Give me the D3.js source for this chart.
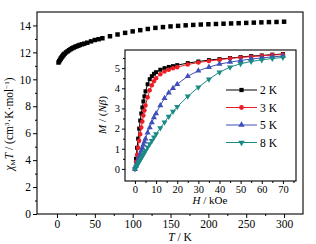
<!DOCTYPE html>
<html>
<head>
<meta charset="utf-8">
<script src="https://cdn.jsdelivr.net/npm/d3@7"></script>
<style>
  body { margin: 0; background: #fff; }
  text { font-family: "Liberation Serif", "DejaVu Serif", serif; fill: #000; }
</style>
</head>
<body>
<div id="chart-area"></div>
<script>
// main plot: chi_M T vs T
var tempK = [2, 3, 4, 5, 6, 7, 8, 9, 10, 12, 14, 16, 18, 20, 22, 24, 26, 28, 30, 33, 36, 40, 45, 50, 55, 60,
    70, 80, 90, 100, 110, 120, 130, 140, 150, 160, 170, 180, 190, 200, 210, 220, 230, 240, 250, 260, 270, 280, 290, 300];
var chiT = [11.25, 11.35, 11.45, 11.55, 11.62, 11.7, 11.77, 11.85, 11.9, 12.0, 12.08, 12.16, 12.24, 12.3, 12.36, 12.41, 12.46, 12.5, 12.55, 12.6, 12.65, 12.72, 12.82, 12.92, 12.98, 13.05,
    13.2, 13.33, 13.45, 13.56, 13.65, 13.74, 13.82, 13.88, 13.93, 13.97, 14.01, 14.04, 14.07, 14.09, 14.11, 14.13, 14.15, 14.17, 14.19, 14.21, 14.23, 14.25, 14.26, 14.28];
var mainXTicks = [0, 50, 100, 150, 200, 250, 300];
var mainYTicks = [0, 2, 4, 6, 8, 10, 12, 14];

// inset: M vs H
var fieldH = [0, 0.5, 1, 1.5, 2, 2.5, 3, 3.5, 4, 4.5, 5, 6, 7, 8, 9, 10, 12, 14, 16, 18, 20, 25, 30, 35, 40, 45, 50, 55, 60, 65, 70];
var m2K = [0, 0.5, 1.05, 1.5, 2.0, 2.4, 2.75, 3.05, 3.35, 3.6, 3.85, 4.2, 4.45, 4.6, 4.72, 4.8, 4.92, 5.0, 5.06, 5.1, 5.15, 5.25, 5.33, 5.4, 5.45, 5.5, 5.55, 5.6, 5.63, 5.67, 5.7];
var m3K = [0, 0.35, 0.7, 1.05, 1.4, 1.72, 2.05, 2.35, 2.65, 2.9, 3.15, 3.55, 3.9, 4.15, 4.35, 4.5, 4.7, 4.83, 4.92, 4.99, 5.05, 5.18, 5.28, 5.35, 5.42, 5.48, 5.53, 5.57, 5.61, 5.65, 5.68];
var m5K = [0, 0.15, 0.3, 0.45, 0.6, 0.75, 0.9, 1.05, 1.2, 1.35, 1.5, 1.8, 2.05, 2.3, 2.55, 2.75, 3.15, 3.5, 3.78, 4.0, 4.2, 4.6, 4.87, 5.05, 5.2, 5.3, 5.38, 5.45, 5.51, 5.56, 5.6];
var m8K = [0, 0.09, 0.18, 0.27, 0.36, 0.45, 0.54, 0.63, 0.72, 0.81, 0.9, 1.07, 1.24, 1.4, 1.57, 1.73, 2.03, 2.32, 2.6, 2.85, 3.08, 3.6, 4.05, 4.45, 4.8, 5.05, 5.22, 5.33, 5.41, 5.48, 5.53];
var insetXTicks = [0, 10, 20, 30, 40, 50, 60, 70];
var insetYTicks = [0, 1, 2, 3, 4, 5];
var seriesNames = ["2 K", "3 K", "5 K", "8 K"];

var series = [
    { name: seriesNames[0], values: m2K, color: "#000000", symbol: d3.symbolSquare, rot: 0 },
    { name: seriesNames[1], values: m3K, color: "#ee1c25", symbol: d3.symbolCircle, rot: 0 },
    { name: seriesNames[2], values: m5K, color: "#3f4fb8", symbol: d3.symbolTriangle, rot: 0 },
    { name: seriesNames[3], values: m8K, color: "#1a8a84", symbol: d3.symbolTriangle, rot: 180 }
];

var svg = d3.select("#chart-area")
    .append("svg")
        .attr("width", 316)
        .attr("height", 244);

// ---- main plot ----
var main = { left: 37, right: 303, top: 12, bottom: 214 };

var x = d3.scaleLinear().domain([-26.4, 325]).range([main.left, main.right]);
var y = d3.scaleLinear().domain([0, 15]).range([main.bottom, main.top]);

svg.append("rect")
    .attr("x", main.left).attr("y", main.top)
    .attr("width", main.right - main.left).attr("height", main.bottom - main.top)
    .attr("fill", "none").attr("stroke", "#000").attr("stroke-width", 1.1);

function styleAxis(sel, fs) {
    sel.select(".domain").remove();
    sel.selectAll(".tick line").attr("stroke", "#000").attr("stroke-width", 1);
    sel.selectAll(".tick text").attr("font-size", fs);
}

// minor ticks
svg.append("g")
    .attr("transform", "translate(0," + main.bottom + ")")
    .call(d3.axisBottom(x).tickValues(d3.range(25, 325, 50)).tickSize(2).tickFormat(""))
    .call(styleAxis, "0px");
svg.append("g")
    .attr("transform", "translate(" + main.left + ",0)")
    .call(d3.axisLeft(y).tickValues(d3.range(1, 15, 2)).tickSize(2).tickFormat(""))
    .call(styleAxis, "0px");

svg.append("g")
    .attr("transform", "translate(0," + main.bottom + ")")
    .call(d3.axisBottom(x).tickValues(mainXTicks).tickSize(4).tickPadding(1.5))
    .call(styleAxis, "11.5px");
svg.append("g")
    .attr("transform", "translate(" + main.left + ",0)")
    .call(d3.axisLeft(y).tickValues(mainYTicks).tickSize(4).tickPadding(2))
    .call(styleAxis, "11.5px");

svg.append("g").selectAll("path")
    .data(tempK)
    .enter().append("path")
        .attr("d", d3.symbol().type(d3.symbolSquare).size(20))
        .attr("transform", function(d, i) { return "translate(" + x(d) + "," + y(chiT[i]) + ")"; })
        .attr("fill", "#000");

// X label
var xl = svg.append("text")
    .attr("x", 180).attr("y", 240.5)
    .attr("font-size", "11.5px")
    .attr("text-anchor", "middle");
xl.append("tspan").attr("font-style", "italic").text("T");
xl.append("tspan").text(" / K");

// Y label
var yl = svg.append("text")
    .attr("transform", "translate(13,124) rotate(-90)")
    .attr("font-size", "11.5px")
    .attr("text-anchor", "middle");
yl.append("tspan").attr("font-style", "italic").text("χ");
yl.append("tspan").attr("font-size", "7px").attr("dy", 2).text("M");
yl.append("tspan").attr("font-style", "italic").attr("dy", -2).text("T");
yl.append("tspan").text(" / (cm");
yl.append("tspan").attr("font-size", "7px").attr("dy", -4).text("3");
yl.append("tspan").attr("dy", 4).text("·K·mol");
yl.append("tspan").attr("font-size", "7px").attr("dy", -4).text("−1");
yl.append("tspan").attr("dy", 4).text(")");

// ---- inset ----
var inset = { left: 125, right: 296, top: 50, bottom: 181 };

var xi = d3.scaleLinear().domain([-4.7, 76.2]).range([inset.left, inset.right]);
var yi = d3.scaleLinear().domain([-0.6, 5.9]).range([inset.bottom, inset.top]);

svg.append("rect")
    .attr("x", inset.left).attr("y", inset.top)
    .attr("width", inset.right - inset.left).attr("height", inset.bottom - inset.top)
    .attr("fill", "#fff").attr("stroke", "#000").attr("stroke-width", 1.1);

svg.append("g")
    .attr("transform", "translate(0," + inset.bottom + ")")
    .call(d3.axisBottom(xi).tickValues(d3.range(5, 76, 10)).tickSize(2).tickFormat(""))
    .call(styleAxis, "0px");
svg.append("g")
    .attr("transform", "translate(" + inset.left + ",0)")
    .call(d3.axisLeft(yi).tickValues(d3.range(0.5, 5.9, 1)).tickSize(2).tickFormat(""))
    .call(styleAxis, "0px");

svg.append("g")
    .attr("transform", "translate(0," + inset.bottom + ")")
    .call(d3.axisBottom(xi).tickValues(insetXTicks).tickSize(3).tickPadding(2).tickFormat(d3.format("d")))
    .call(styleAxis, "10.5px");
svg.append("g")
    .attr("transform", "translate(" + inset.left + ",0)")
    .call(d3.axisLeft(yi).tickValues(insetYTicks).tickSize(3).tickPadding(2).tickFormat(d3.format("d")))
    .call(styleAxis, "10.5px");

var line = d3.line()
    .x(function(d) { return xi(d[0]); })
    .y(function(d) { return yi(d[1]); });

series.forEach(function(s) {
    var pts = fieldH.map(function(h, i) { return [h, s.values[i]]; });
    svg.append("path")
        .datum(pts)
        .attr("d", line)
        .attr("fill", "none")
        .attr("stroke", s.color)
        .attr("stroke-width", 1);
    svg.append("g").selectAll("path")
        .data(pts)
        .enter().append("path")
            .attr("d", d3.symbol().type(s.symbol).size(16))
            .attr("transform", function(d) {
                return "translate(" + xi(d[0]) + "," + yi(d[1]) + ") rotate(" + s.rot + ")";
            })
            .attr("fill", s.color);
});

// legend
var legend = svg.append("g");
series.forEach(function(s, i) {
    var ly = 90 + i * 17.5;
    legend.append("line")
        .attr("x1", 226).attr("x2", 257).attr("y1", ly).attr("y2", ly)
        .attr("stroke", s.color).attr("stroke-width", 1);
    legend.append("path")
        .attr("d", d3.symbol().type(s.symbol).size(18))
        .attr("transform", "translate(241.5," + ly + ") rotate(" + s.rot + ")")
        .attr("fill", s.color);
    legend.append("text")
        .attr("x", 260).attr("y", ly + 4)
        .attr("font-size", "11.5px")
        .text(s.name);
});

// inset labels
var hl = svg.append("text")
    .attr("x", 210).attr("y", 204)
    .attr("font-size", "11px")
    .attr("text-anchor", "middle");
hl.append("tspan").attr("font-style", "italic").text("H");
hl.append("tspan").text(" / kOe");

var ml = svg.append("text")
    .attr("transform", "translate(106,115) rotate(-90)")
    .attr("font-size", "11px")
    .attr("text-anchor", "middle");
ml.append("tspan").attr("font-style", "italic").text("M");
ml.append("tspan").text(" / (");
ml.append("tspan").attr("font-style", "italic").text("Nβ");
ml.append("tspan").text(")");
</script>
</body>
</html>
